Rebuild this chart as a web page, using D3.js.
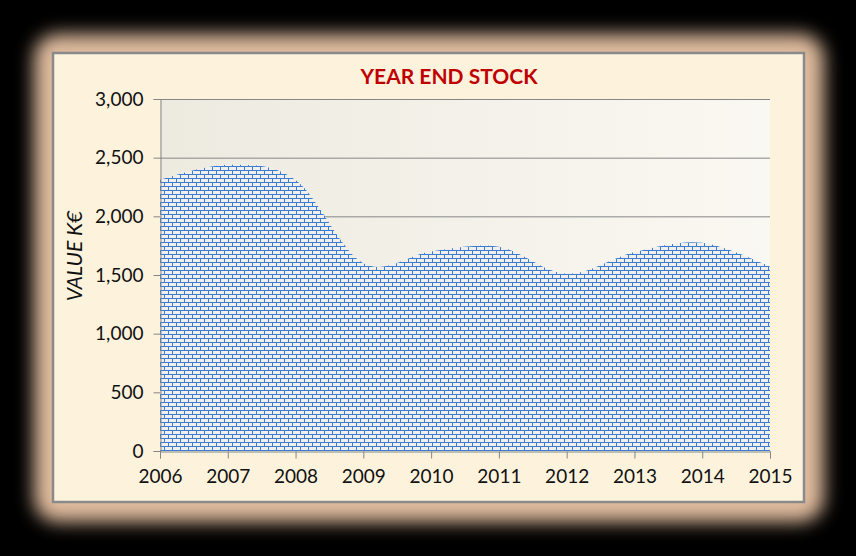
<!DOCTYPE html>
<html><head><meta charset="utf-8">
<script src="https://cdn.jsdelivr.net/npm/d3@7"></script>
<style>html,body{margin:0;padding:0;background:#000;}svg{display:block;}</style>
</head><body>
<svg id="c" width="856" height="556"></svg>
<script>
const years = [2006,2007,2008,2009,2010,2011,2012,2013,2014,2015];
const stock = [2310,2440,2310,1600,1700,1740,1510,1695,1775,1570];
const yTicks = [0,500,1000,1500,2000,2500,3000];
const title = "YEAR END STOCK";
const yTitle = "VALUE K€";

const svg = d3.select("#c");
const defs = svg.append("defs");
const blur = defs.append("filter").attr("id","glow").attr("x","-20%").attr("y","-20%").attr("width","140%").attr("height","140%");
blur.append("feGaussianBlur").attr("stdDeviation",9);

const bg = defs.append("linearGradient").attr("id","pbg").attr("x1","0").attr("x2","1").attr("y1","0").attr("y2","0");
bg.append("stop").attr("offset","0").attr("stop-color","#edeae0");
bg.append("stop").attr("offset","1").attr("stop-color","#faf8f2");

const pat = defs.append("pattern").attr("id","brick").attr("patternUnits","userSpaceOnUse")
  .attr("width",8).attr("height",8).attr("x",160).attr("y",451);
pat.append("rect").attr("width",8).attr("height",8).attr("fill","#f0efe9");
pat.append("rect").attr("x",0).attr("y",3).attr("width",8).attr("height",1).attr("fill","#3a7cd3");
pat.append("rect").attr("x",0).attr("y",7).attr("width",8).attr("height",1).attr("fill","#3a7cd3");
pat.append("rect").attr("x",0).attr("y",0).attr("width",1).attr("height",3).attr("fill","#3a7cd3");
pat.append("rect").attr("x",4).attr("y",4).attr("width",1).attr("height",3).attr("fill","#3a7cd3");

// glow frame
svg.append("rect").attr("x",0).attr("y",0).attr("width",856).attr("height",556).attr("fill","#000");
svg.append("rect").attr("x",34).attr("y",34).attr("width",790).attr("height",488).attr("rx",24)
  .attr("fill","#dfbb9e").attr("filter","url(#glow)");
svg.append("rect").attr("x",53).attr("y",53).attr("width",751).attr("height",449)
  .attr("fill","#fdf3dd").attr("stroke","#8a8a8a").attr("stroke-width",2.5);

const m = {l:160, r:770, t:99, b:451};
const x = d3.scaleLinear().domain([2006,2015]).range([m.l,m.r]);
const y = d3.scaleLinear().domain([0,3000]).range([m.b,m.t]);

svg.append("rect").attr("x",m.l).attr("y",m.t).attr("width",m.r-m.l).attr("height",m.b-m.t).attr("fill","url(#pbg)");

// gridlines
svg.append("g").selectAll("line").data(yTicks.filter(d=>d>0)).join("line")
  .attr("x1",m.l).attr("x2",m.r).attr("y1",d=>y(d)+0.5).attr("y2",d=>y(d)+0.5)
  .attr("stroke","#868686").attr("stroke-width",1);

const data = years.map((yr,i)=>({yr, v:stock[i]}));
const area = d3.area().x(d=>x(d.yr)).y0(y(0)).y1(d=>y(d.v)).curve(d3.curveCatmullRom.alpha(0));
svg.append("path").datum(data).attr("d",area).attr("fill","url(#brick)");

const font = "Lato, 'Open Sans', sans-serif";
// y axis
const yAxis = d3.axisLeft(y).tickValues(yTicks).tickSize(7).tickPadding(10).tickFormat(d3.format(","));
const ya = svg.append("g").attr("transform",`translate(${m.l+0.5},0)`).call(yAxis);
ya.select(".domain").attr("stroke","#868686");
ya.selectAll(".tick line").attr("stroke","#868686");
ya.selectAll("text").attr("font-family",font).attr("font-size",19).attr("fill","#111");

// x axis
const xAxis = d3.axisBottom(x).tickValues(years).tickSize(7).tickPadding(11).tickFormat(d3.format("d"));
const xa = svg.append("g").attr("transform",`translate(0,${m.b+0.5})`).call(xAxis);
xa.select(".domain").attr("stroke","#868686");
xa.selectAll(".tick line").attr("stroke","#868686");
xa.selectAll("text").attr("font-family",font).attr("font-size",19).attr("fill","#111");

svg.append("text").attr("x",449).attr("y",84).attr("text-anchor","middle")
  .attr("font-family",font).attr("font-weight","bold").attr("font-size",21)
  .attr("fill","#c00000").text(title);

svg.append("text").attr("transform","translate(82,256) rotate(-90)").attr("text-anchor","middle")
  .attr("font-family",font).attr("font-style","italic").attr("font-size",21)
  .attr("fill","#111").text(yTitle);
</script>
</body></html>
